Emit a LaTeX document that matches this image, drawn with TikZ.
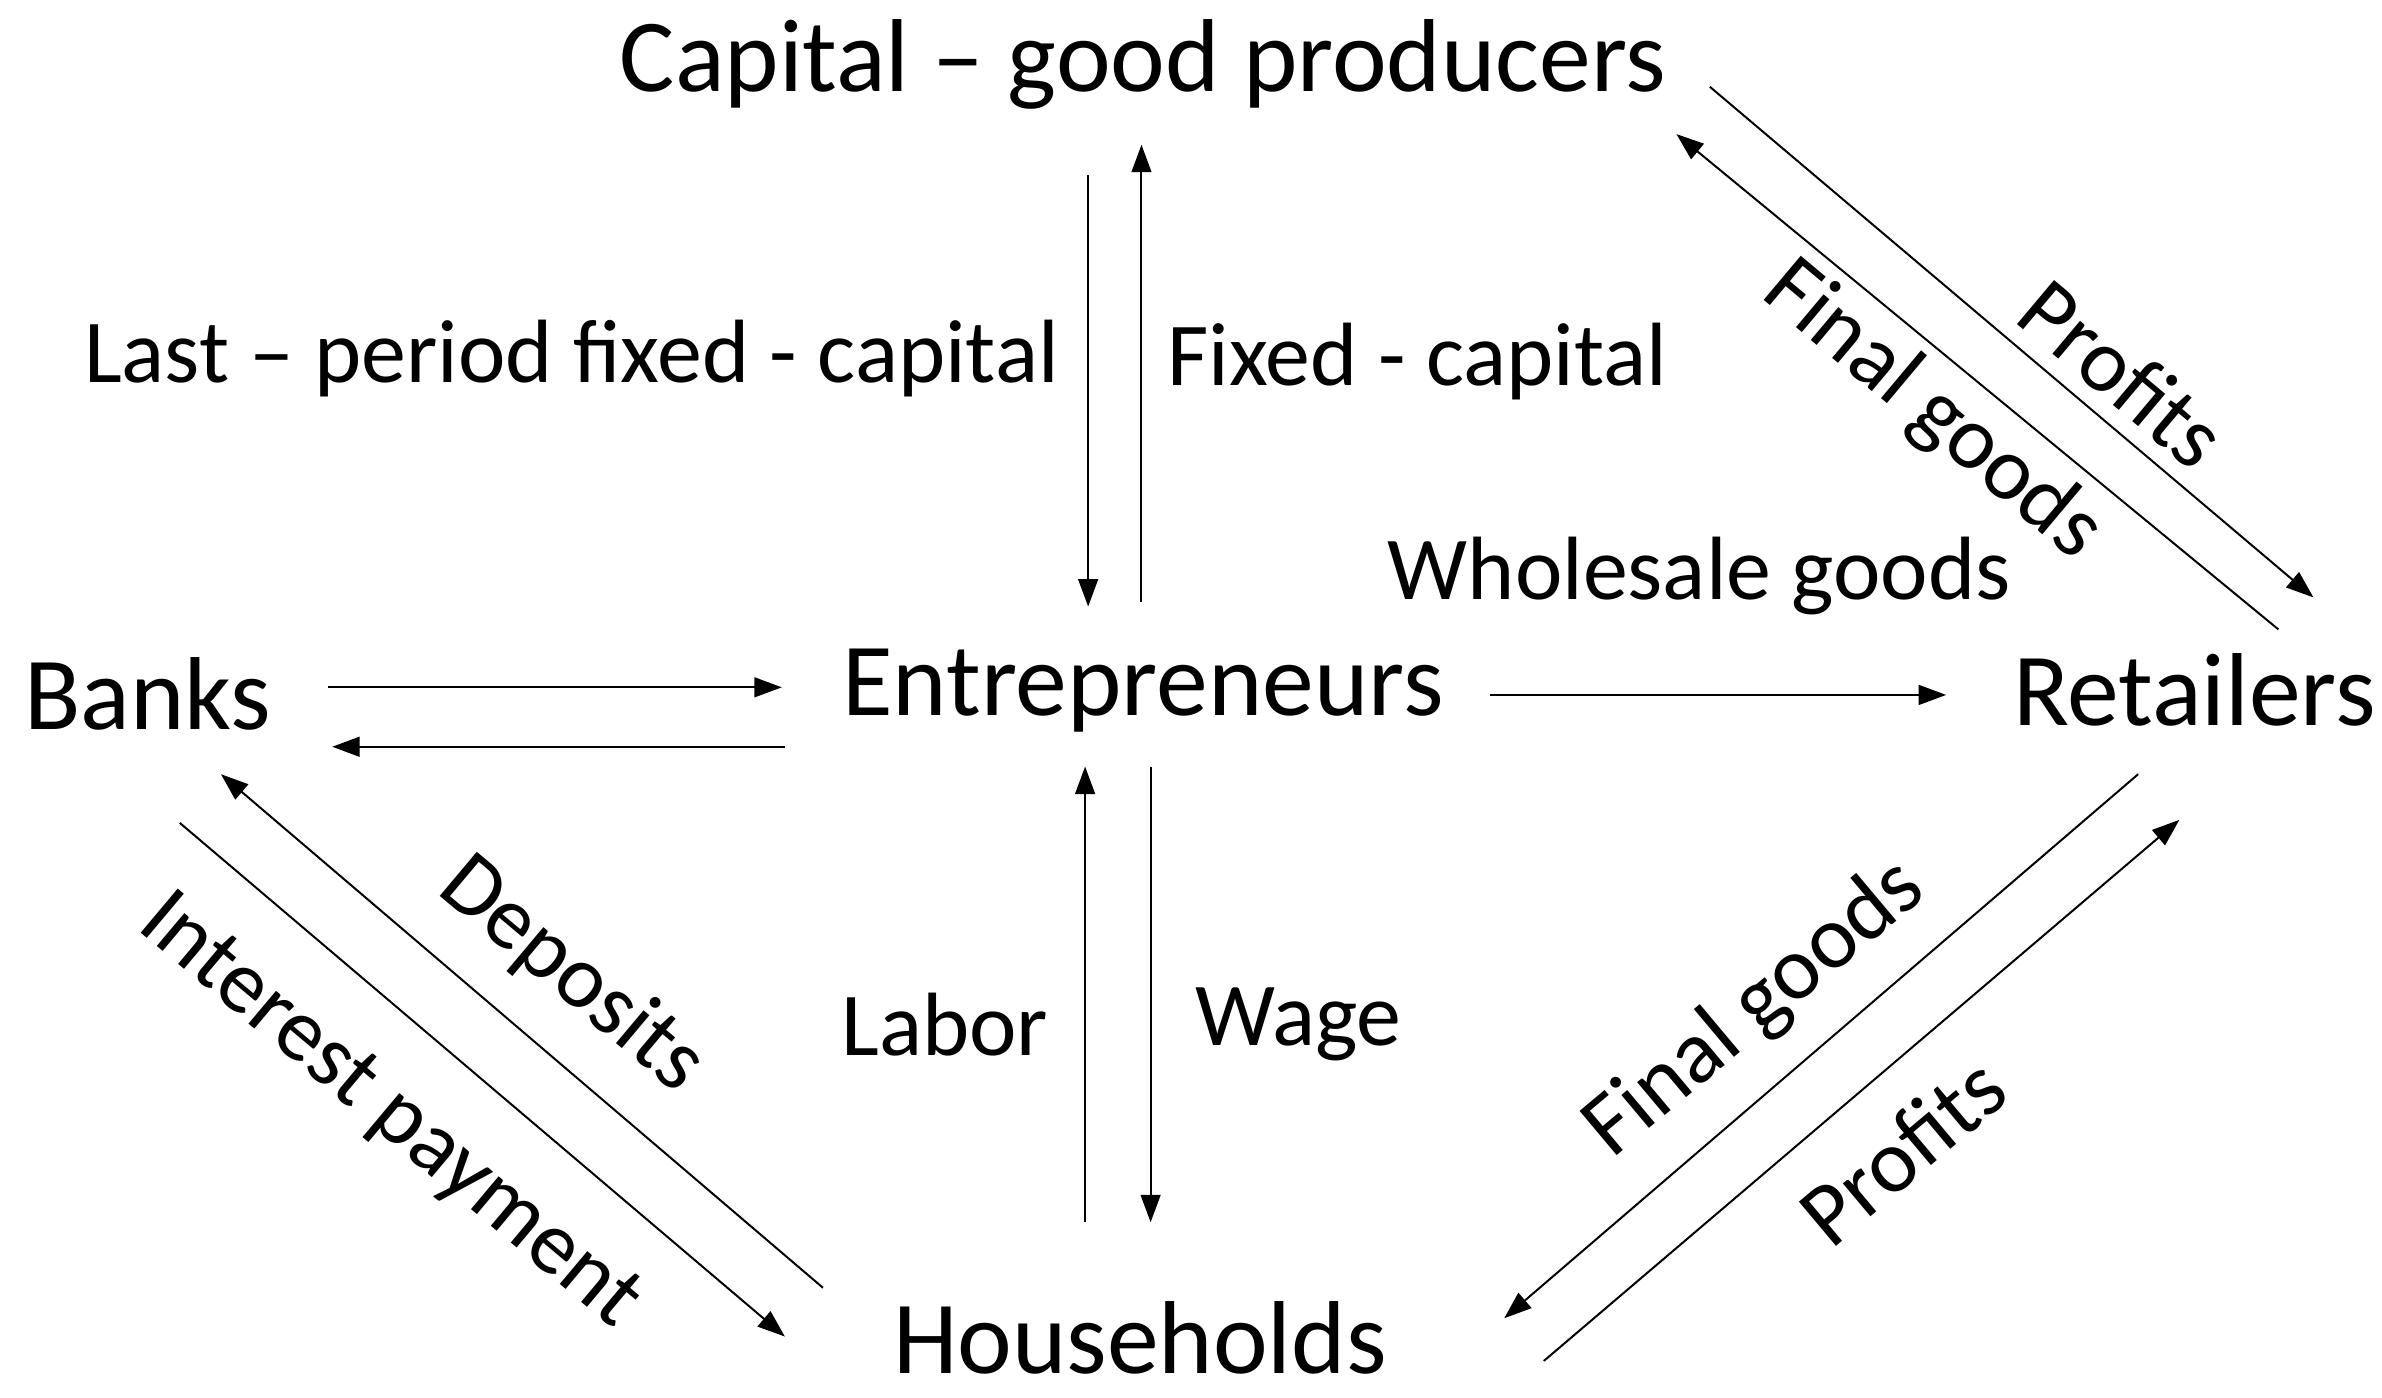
\documentclass[tikz,border=0pt]{standalone}
\usepackage{fontspec}
\setmainfont{Carlito}
\usetikzlibrary{arrows.meta}
\begin{document}
\begin{tikzpicture}[x=1pt,y=-1pt,
  big/.style={font=\fontsize{68}{74}\selectfont,inner sep=0pt},
  lab/.style={font=\fontsize{59}{64}\selectfont,inner sep=0pt},
  arr/.style={-{Triangle[length=18pt,width=13pt]},line width=1.3pt}]
\useasboundingbox (0,0) rectangle (1563,917);
\node[big] (cap) at (750,42) {Capital – good producers};
\node[big] (banks) at (97,455) {Banks};
\node[big] (ent) at (750,453) {Entrepreneurs};
\node[big] (ret) at (1440,453) {Retailers};
\node[big] (hh) at (748,878) {Households};
\coordinate (a1) at (714,115); \coordinate (a2) at (714,398);
\coordinate (b1) at (749,395); \coordinate (b2) at (749,95);
\draw[arr] (a1) -- (a2); \draw[arr] (b1) -- (b2);
\node[lab] (l1) at (375,235) {Last – period fixed - capital};
\node[lab] (l2) at (930,237) {Fixed - capital};
\coordinate (c1) at (215,451); \coordinate (c2) at (513,451);
\coordinate (d1) at (515,490); \coordinate (d2) at (218,490);
\draw[arr] (c1) -- (c2); \draw[arr] (d1) -- (d2);
\coordinate (e1) at (978,456); \coordinate (e2) at (1277,456);
\draw[arr] (e1) -- (e2);
\node[lab] (l3) at (1115,378) {Wholesale goods};
\coordinate (f1) at (1122,57); \coordinate (f2) at (1518,392);
\coordinate (g1) at (1495,413); \coordinate (g2) at (1100,88);
\draw[arr] (f1) -- (f2); \draw[arr] (g1) -- (g2);
\node[lab,rotate=-40] (l4) at (1393,245) {Profits};
\node[lab,rotate=-40] (l5) at (1268,270) {Final goods};
\coordinate (h1) at (1403,508); \coordinate (h2) at (987,865);
\coordinate (i1) at (1013,893); \coordinate (i2) at (1430,538);
\draw[arr] (h1) -- (h2); \draw[arr] (i1) -- (i2);
\node[lab,rotate=40] (l6) at (1152,662) {Final goods};
\node[lab,rotate=40] (l7) at (1248,755) {Profits};
\coordinate (j1) at (540,845); \coordinate (j2) at (145,508);
\coordinate (k1) at (118,540); \coordinate (k2) at (515,877);
\draw[arr] (j1) -- (j2); \draw[arr] (k1) -- (k2);
\node[lab,rotate=-40] (l8) at (375,640) {Deposits};
\node[lab,rotate=-40] (l9) at (255,730) {Interest payment};
\coordinate (m1) at (712,802); \coordinate (m2) at (712,503);
\coordinate (n1) at (755,503); \coordinate (n2) at (755,802);
\draw[arr] (m1) -- (m2); \draw[arr] (n1) -- (n2);
\node[lab] (l10) at (620,672) {Labor};
\node[lab] (l11) at (852,672) {Wage};
\end{tikzpicture}
\end{document}
